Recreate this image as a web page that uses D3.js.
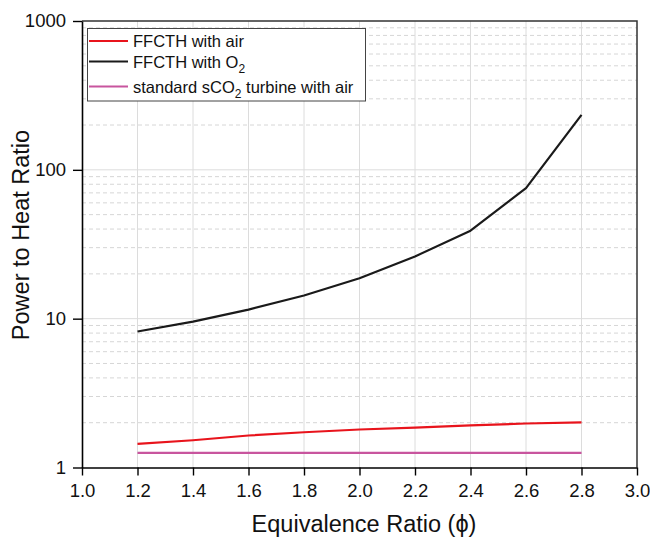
<!DOCTYPE html>
<html>
<head>
<meta charset="utf-8">
<script src="https://cdn.jsdelivr.net/npm/d3@7"></script>
<style>
  html, body { margin: 0; padding: 0; background: #fff; }
  svg { display: block; font-family: "Liberation Sans", Arial, sans-serif; }
</style>
</head>
<body>
<svg id="chart" width="650" height="538"></svg>
<script>
// Equivalence ratio values (phi)
const phi = [1.2, 1.4, 1.6, 1.8, 2.0, 2.2, 2.4, 2.6, 2.8];
// Power-to-heat ratio for each configuration
const ffcthAir = [1.44, 1.525, 1.64, 1.725, 1.80, 1.855, 1.92, 1.975, 2.01];
const ffcthO2 = [8.2, 9.55, 11.5, 14.3, 18.7, 26.2, 39.0, 75.4, 234];
const standardAir = [1.255, 1.255, 1.255, 1.255, 1.255, 1.255, 1.255, 1.255, 1.255];

const xTicks = [1.0, 1.2, 1.4, 1.6, 1.8, 2.0, 2.2, 2.4, 2.6, 2.8, 3.0];
const yTicks = [1, 10, 100, 1000];

const seriesNames = ["FFCTH with air", "FFCTH with O2", "standard sCO2 turbine with air"];
const seriesColors = ["#e8141c", "#1a1a1a", "#c8559e"];
const seriesValues = [ffcthAir, ffcthO2, standardAir];

const svg = d3.select("#chart");
const plotLeft = 82, plotRight = 637, plotTop = 21, plotBottom = 467.5;

const x = d3.scaleLinear().domain([1.0, 3.0]).range([plotLeft, plotRight]);
const y = d3.scaleLog().domain([1, 1000]).range([plotBottom, plotTop]);

// grid: minor (dashed) lines within each decade
const minor = [];
for (let d = 1; d < 1000; d *= 10) {
  for (let k = 2; k <= 9; k++) minor.push(d * k);
}
svg.append("g").selectAll("line").data(minor).join("line")
  .attr("x1", plotLeft).attr("x2", plotRight)
  .attr("y1", d => y(d)).attr("y2", d => y(d))
  .attr("stroke", "#d6d6d6").attr("stroke-width", 1)
  .attr("stroke-dasharray", "4,3");

// grid: major horizontal lines at decades
svg.append("g").selectAll("line").data(yTicks.slice(1, 3)).join("line")
  .attr("x1", plotLeft).attr("x2", plotRight)
  .attr("y1", d => y(d)).attr("y2", d => y(d))
  .attr("stroke", "#dcdcdc").attr("stroke-width", 1);

// grid: major vertical lines
svg.append("g").selectAll("line").data(xTicks.slice(1, -1)).join("line")
  .attr("x1", d => x(d)).attr("x2", d => x(d))
  .attr("y1", plotTop).attr("y2", plotBottom)
  .attr("stroke", "#dcdcdc").attr("stroke-width", 1);

// data lines
const line = d3.line()
  .x((d, i) => x(phi[i]))
  .y(d => y(d));

seriesValues.forEach((vals, i) => {
  svg.append("path")
    .datum(vals)
    .attr("d", line)
    .attr("fill", "none")
    .attr("stroke", seriesColors[i])
    .attr("stroke-width", 2.2)
    .attr("stroke-linejoin", "round");
});

// frame (top and right)
svg.append("path")
  .attr("d", `M${plotLeft},${plotTop}H${plotRight}V${plotBottom}`)
  .attr("fill", "none").attr("stroke", "#333").attr("stroke-width", 1.5);

// axes
const xAxis = d3.axisBottom(x).tickValues(xTicks).tickFormat(d3.format(".1f"))
  .tickSizeInner(8).tickSizeOuter(0).tickPadding(8);
const gx = svg.append("g").attr("transform", `translate(0,${plotBottom})`).call(xAxis);

const yAxis = d3.axisLeft(y).tickValues(yTicks).tickFormat(d3.format("d"))
  .tickSizeInner(9).tickSizeOuter(0).tickPadding(7);
const gy = svg.append("g").attr("transform", `translate(${plotLeft},0)`).call(yAxis);

[gx, gy].forEach(g => {
  g.select(".domain").attr("stroke", "#000").attr("stroke-width", 1.6);
  g.selectAll(".tick line").attr("stroke", "#000").attr("stroke-width", 1.4);
  g.selectAll(".tick text").attr("fill", "#111")
    .style("font-size", "18.5px").style("font-family", "'Liberation Sans', Arial, sans-serif");
});

// axis titles
svg.append("text")
  .attr("x", 364).attr("y", 532)
  .attr("text-anchor", "middle")
  .style("font-size", "23.5px").attr("fill", "#111")
  .text("Equivalence Ratio (ϕ)");

svg.append("text")
  .attr("transform", "translate(29,235) rotate(-90)")
  .attr("text-anchor", "middle")
  .style("font-size", "23.5px").attr("fill", "#111")
  .text("Power to Heat Ratio");

// legend
const lg = svg.append("g");
lg.append("rect")
  .attr("x", 87.5).attr("y", 28.5).attr("width", 278).attr("height", 72.5)
  .attr("fill", "#fff").attr("stroke", "#444").attr("stroke-width", 1);

const rowY = [41, 61.5, 86.5];
seriesNames.forEach((name, i) => {
  lg.append("line")
    .attr("x1", 89).attr("x2", 128)
    .attr("y1", rowY[i]).attr("y2", rowY[i])
    .attr("stroke", seriesColors[i]).attr("stroke-width", 2.2);
  const t = lg.append("text")
    .attr("x", 133).attr("y", rowY[i] + 6)
    .style("font-size", "16.5px").attr("fill", "#111");
  if (i === 0) {
    t.text(name);
  } else if (i === 1) {
    t.append("tspan").text("FFCTH with O");
    t.append("tspan").attr("dy", 5).style("font-size", "12px").text("2");
  } else {
    t.append("tspan").text("standard sCO");
    t.append("tspan").attr("dy", 5).style("font-size", "12px").text("2");
    t.append("tspan").attr("dy", -5).text(" turbine with air");
  }
});
</script>
</body>
</html>
